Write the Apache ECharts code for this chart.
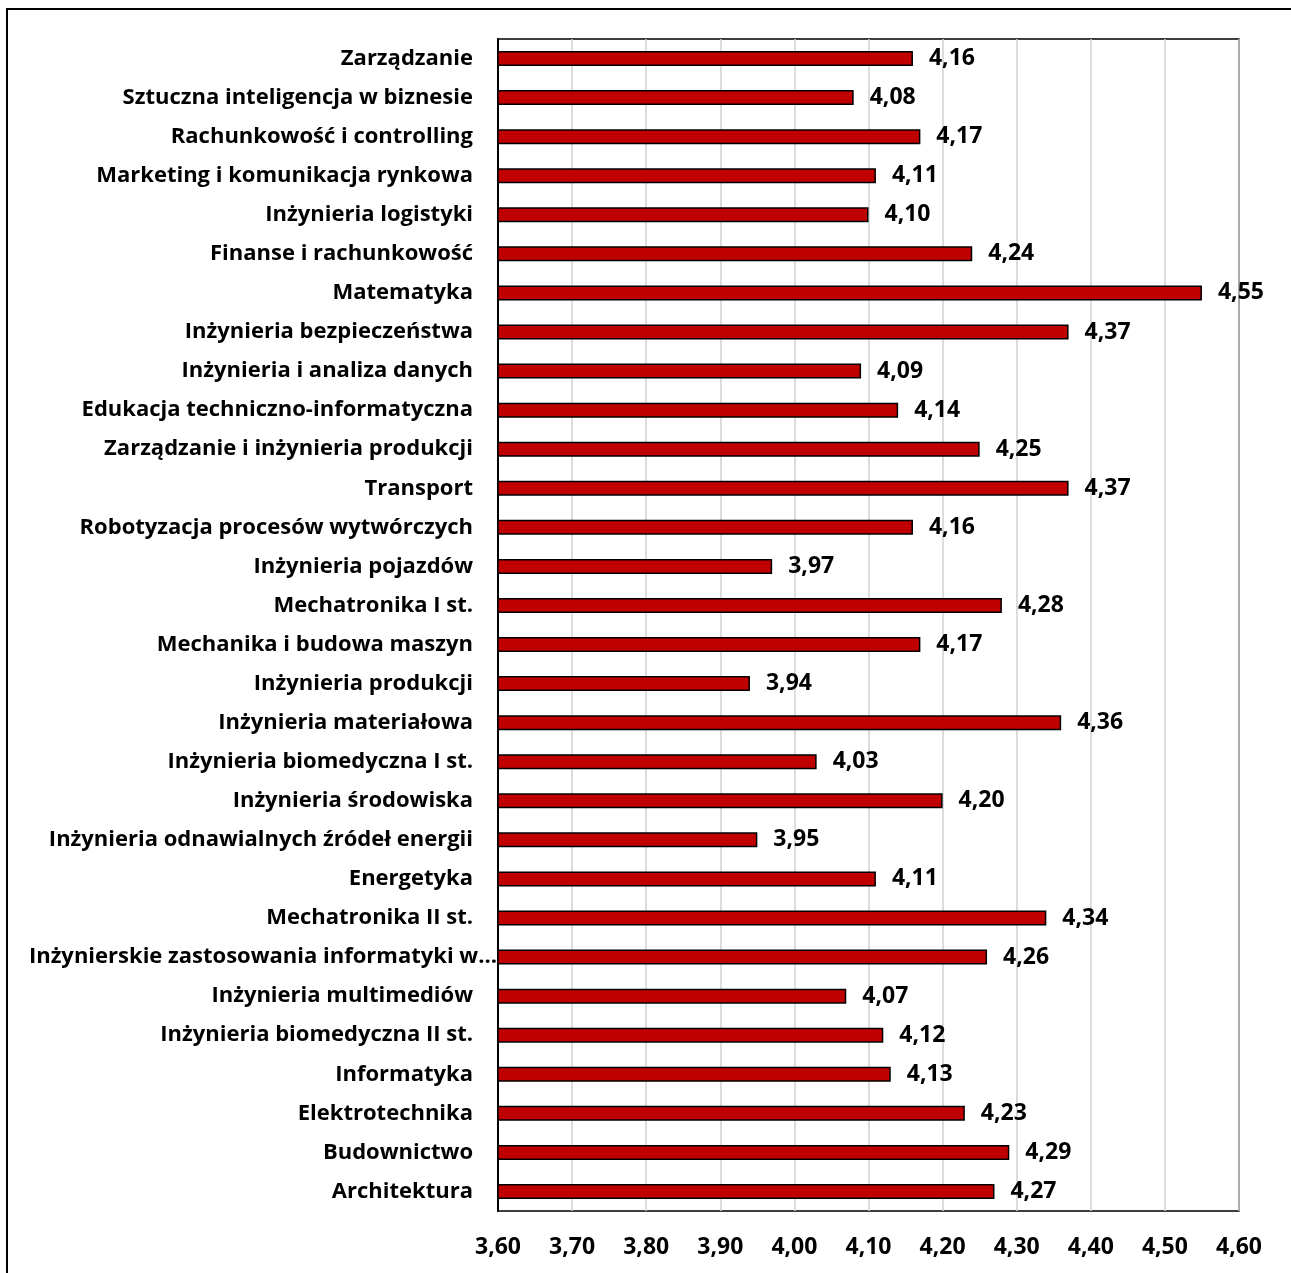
<!DOCTYPE html>
<html>
<head>
<meta charset="utf-8">
<script src="https://cdn.jsdelivr.net/npm/echarts@6/dist/echarts.min.js"></script>
<style>
html,body{margin:0;padding:0;background:#fff;}
#chart{width:1291px;height:1273px;}
</style>
</head>
<body>
<div id="chart"></div>
<script>
// Categories, top to bottom as in the reference
const categories = [
  "Zarządzanie",
  "Sztuczna inteligencja w biznesie",
  "Rachunkowość i controlling",
  "Marketing i komunikacja rynkowa",
  "Inżynieria logistyki",
  "Finanse i rachunkowość",
  "Matematyka",
  "Inżynieria bezpieczeństwa",
  "Inżynieria i analiza danych",
  "Edukacja techniczno-informatyczna",
  "Zarządzanie i inżynieria produkcji",
  "Transport",
  "Robotyzacja procesów wytwórczych",
  "Inżynieria pojazdów",
  "Mechatronika I st.",
  "Mechanika i budowa maszyn",
  "Inżynieria produkcji",
  "Inżynieria materiałowa",
  "Inżynieria biomedyczna I st.",
  "Inżynieria środowiska",
  "Inżynieria odnawialnych źródeł energii",
  "Energetyka",
  "Mechatronika II st.",
  "Inżynierskie zastosowania informatyki w…",
  "Inżynieria multimediów",
  "Inżynieria biomedyczna II st.",
  "Informatyka",
  "Elektrotechnika",
  "Budownictwo",
  "Architektura"
];
const values = [
  4.16, 4.08, 4.17, 4.11, 4.10, 4.24, 4.55, 4.37, 4.09, 4.14,
  4.25, 4.37, 4.16, 3.97, 4.28, 4.17, 3.94, 4.36, 4.03, 4.20,
  3.95, 4.11, 4.34, 4.26, 4.07, 4.12, 4.13, 4.23, 4.29, 4.27
];
const axisMin = 3.6;
const axisMax = 4.6;
const axisStep = 0.1;

const FONT = '"Open Sans", sans-serif';
const fmt = v => Number(v).toFixed(2).replace('.', ',');

const yData = categories.map(c => c.endsWith('…')
  ? {value: c, textStyle: {padding: [0, -24, 0, 0]}}
  : c);

const chart = echarts.init(document.getElementById('chart'), null, {renderer: 'canvas'});
chart.setOption({
  backgroundColor: '#fff',
  animation: false,
  graphic: [{
    type: 'rect',
    shape: {x: 7, y: 9, width: 1400, height: 1400},
    style: {fill: 'none', stroke: '#000', lineWidth: 2},
    silent: true
  }],
  grid: {
    left: 498, right: 52, top: 39, bottom: 62,
    show: true, borderColor: '#000', borderWidth: 1.5,
    containLabel: false
  },
  xAxis: {
    type: 'value',
    min: axisMin, max: axisMax, interval: axisStep,
    axisLine: {show: false},
    axisTick: {show: false},
    splitLine: {show: true, lineStyle: {color: '#d0d0d0', width: 1.5}},
    axisLabel: {
      formatter: v => fmt(v),
      fontFamily: FONT, fontWeight: 'bold', fontSize: 23, color: '#000',
      margin: 25
    }
  },
  yAxis: {
    type: 'category',
    inverse: true,
    data: yData,
    axisLine: {show: true, lineStyle: {color: '#000', width: 2}},
    axisTick: {show: false},
    axisLabel: {
      fontFamily: FONT, fontWeight: 'bold', fontSize: 22, color: '#000',
      margin: 25, interval: 0
    }
  },
  series: [{
    type: 'bar',
    data: values,
    barWidth: 15,
    itemStyle: {color: '#C00000', borderColor: '#000', borderWidth: 1.5},
    label: {
      show: true, position: 'right', distance: 16,
      formatter: p => fmt(p.value),
      fontFamily: FONT, fontWeight: 'bold', fontSize: 23, color: '#000'
    }
  }]
});
</script>
</body>
</html>
